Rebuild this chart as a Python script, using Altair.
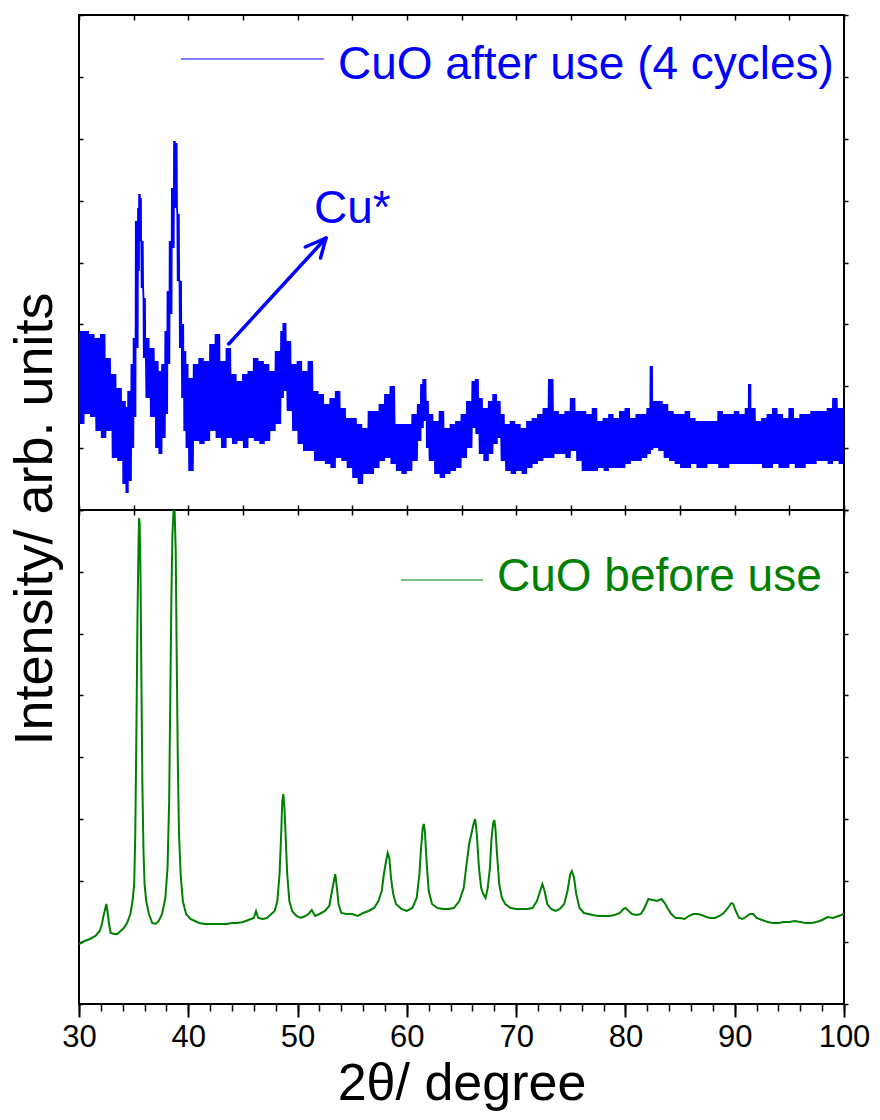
import altair as alt
import pandas as pd

BLUE = "#0000ff"
GREEN = "#008000"
FONT = "Liberation Sans, Arial, sans-serif"

# ---- CuO after use (4 cycles): 2θ grid with upper / lower envelope of the noisy trace
after_deg = [30.0, 30.5, 31.0, 31.5, 32.0, 32.5, 33.0, 33.5, 34.0, 34.3, 34.5, 34.8,
             35.0, 35.2, 35.4, 35.5, 35.6, 35.7, 35.9, 36.1, 36.5, 37.0, 37.3, 37.6,
             37.9, 38.1, 38.3, 38.5, 38.7, 38.8, 39.0, 39.2, 39.4, 39.6, 39.8, 40.0,
             40.5, 41.0, 41.5, 42.0, 42.5, 43.0, 43.5, 44.0, 44.5, 45.0, 45.5, 46.0,
             46.5, 47.0, 47.5, 48.0, 48.5, 48.7, 49.0, 49.5, 50.0, 50.5, 51.0, 51.5,
             52.0, 52.5, 53.0, 53.5, 54.0, 54.5, 55.0, 55.5, 56.0, 56.5, 57.0, 57.5,
             58.0, 58.5, 59.0, 59.5, 60.0, 60.5, 61.0, 61.3, 61.5, 61.8, 62.0, 62.5,
             63.0, 63.5, 64.0, 64.5, 65.0, 65.5, 66.0, 66.3, 66.6, 67.0, 67.5, 67.9,
             68.3, 68.6, 69.0, 69.5, 70.0, 70.5, 71.0, 71.5, 72.0, 72.5, 73.0, 73.5,
             74.0, 74.5, 75.0, 75.5, 76.0, 76.5, 77.0, 77.5, 78.0, 78.5, 79.0, 79.5,
             80.0, 80.5, 81.0, 81.5, 82.0, 82.3, 82.5, 83.0, 83.5, 84.0, 84.5, 85.0,
             85.5, 86.0, 86.5, 87.0, 87.5, 88.0, 88.5, 89.0, 89.5, 90.0, 90.5, 91.0,
             91.3, 91.5, 92.0, 92.5, 93.0, 93.5, 94.0, 94.5, 95.0, 95.5, 96.0, 96.5,
             97.0, 97.5, 98.0, 98.5, 99.0, 99.5, 100.0]
after_hi = [179, 179, 176, 172, 176, 152, 136, 122, 109, 103, 119, 146,
            172, 289, 302, 316, 312, 269, 212, 172, 162, 149, 139, 146,
            179, 219, 269, 322, 369, 367, 296, 229, 186, 159, 146, 132,
            146, 152, 149, 166, 176, 149, 162, 136, 129, 136, 139, 152,
            149, 146, 139, 159, 179, 187, 169, 146, 149, 139, 149, 119,
            116, 106, 112, 119, 102, 92, 92, 86, 82, 99, 99, 106,
            116, 124, 86, 86, 86, 96, 106, 126, 131, 109, 96, 89,
            99, 82, 86, 89, 96, 109, 129, 131, 112, 102, 109, 116,
            109, 96, 86, 89, 86, 82, 89, 92, 96, 102, 131, 99,
            96, 99, 112, 99, 99, 96, 102, 89, 92, 96, 92, 99,
            102, 92, 96, 96, 102, 144, 109, 109, 106, 99, 96, 96,
            99, 92, 89, 89, 89, 89, 99, 96, 96, 99, 96, 102,
            126, 102, 89, 92, 96, 102, 96, 92, 102, 92, 96, 96,
            99, 99, 99, 102, 112, 102, 96]
after_lo = [86, 96, 93, 79, 72, 79, 52, 49, 26, 17, 29, 62,
            93, 162, 239, 286, 269, 222, 152, 112, 93, 62, 56, 72,
            96, 146, 196, 262, 329, 302, 229, 162, 112, 79, 62, 39,
            69, 66, 69, 79, 72, 62, 72, 66, 69, 62, 72, 69,
            66, 69, 79, 86, 112, 119, 99, 79, 66, 59, 59, 49,
            49, 46, 42, 52, 49, 42, 32, 26, 36, 36, 42, 49,
            52, 46, 39, 36, 39, 49, 69, 82, 89, 62, 49, 36,
            32, 36, 39, 42, 52, 62, 82, 76, 56, 49, 56, 66,
            72, 49, 39, 36, 39, 36, 42, 46, 49, 52, 52, 56,
            56, 52, 59, 49, 39, 39, 39, 42, 39, 42, 42, 42,
            46, 49, 49, 52, 56, 60, 62, 59, 52, 49, 46, 42,
            42, 46, 42, 42, 46, 46, 42, 42, 46, 46, 46, 46,
            46, 46, 46, 42, 42, 46, 42, 42, 46, 42, 42, 46,
            46, 49, 49, 46, 49, 46, 56]

# ---- CuO before use
before_deg = [30.0, 30.5, 31.0, 31.5, 31.9, 32.1, 32.2, 32.35, 32.5, 32.6, 32.75, 32.9,
              33.2, 33.5, 33.8, 34.1, 34.4, 34.7, 34.9, 35.05, 35.15, 35.25, 35.35, 35.45,
              35.5, 35.55, 35.62, 35.7, 35.8, 35.9, 36.0, 36.15, 36.4, 36.7, 37.0, 37.3,
              37.6, 37.9, 38.1, 38.25, 38.35, 38.45, 38.55, 38.65, 38.75, 38.85, 38.95, 39.05,
              39.15, 39.3, 39.5, 39.8, 40.2, 40.6, 41.0, 41.5, 42.0, 42.5, 43.0, 43.5,
              44.0, 44.5, 45.0, 45.5, 46.0, 46.2, 46.4, 46.8, 47.2, 47.6, 47.9, 48.15,
              48.35, 48.5, 48.6, 48.7, 48.8, 48.9, 49.05, 49.25, 49.5, 49.9, 50.3, 50.7,
              51.0, 51.3, 51.6, 52.0, 52.5, 52.9, 53.2, 53.45, 53.6, 53.75, 54.0, 54.5,
              55.0, 55.5, 56.0, 56.5, 57.0, 57.4, 57.7, 57.9, 58.1, 58.25, 58.4, 58.55,
              58.75, 59.0, 59.5, 60.0, 60.5, 60.9, 61.15, 61.3, 61.45, 61.55, 61.65, 61.8,
              62.0, 62.3, 62.8, 63.3, 63.8, 64.3, 64.8, 65.2, 65.5, 65.7, 65.9, 66.1,
              66.25, 66.4, 66.6, 66.8, 67.0, 67.2, 67.4, 67.6, 67.75, 67.9, 68.0, 68.1,
              68.25, 68.45, 68.7, 69.0, 69.5, 70.0, 70.5, 71.0, 71.5, 71.9, 72.2, 72.4,
              72.6, 72.85, 73.2, 73.6, 74.0, 74.4, 74.7, 74.95, 75.1, 75.3, 75.5, 75.8,
              76.2, 76.6, 77.0, 77.5, 78.0, 78.5, 79.0, 79.5, 79.8, 80.0, 80.3, 80.6,
              81.0, 81.4, 81.7, 81.9, 82.1, 82.5, 82.9, 83.3, 83.6, 83.9, 84.2, 84.6,
              85.0, 85.4, 85.8, 86.2, 86.6, 87.0, 87.4, 87.8, 88.2, 88.6, 89.0, 89.3,
              89.5, 89.7, 89.85, 90.1, 90.4, 90.7, 91.0, 91.4, 91.7, 92.0, 92.5, 93.0,
              93.5, 94.0, 94.5, 95.0, 95.5, 96.0, 96.5, 97.0, 97.5, 98.0, 98.5, 99.0,
              99.5, 100.0]
before_int = [60, 63, 65, 68, 73, 80, 86, 93, 100, 93, 80, 71,
              70, 70, 73, 76, 81, 90, 103, 120, 170, 270, 386, 463,
              486, 480, 436, 336, 220, 153, 120, 103, 90, 81, 80, 83,
              90, 106, 136, 203, 303, 403, 470, 493, 493, 453, 336, 236,
              170, 130, 103, 90, 85, 83, 81, 80, 80, 80, 80, 80,
              81, 81, 82, 84, 86, 93, 86, 85, 86, 90, 93, 103,
              130, 170, 203, 210, 196, 170, 130, 103, 93, 88, 86, 88,
              90, 94, 88, 90, 93, 98, 116, 130, 116, 100, 91, 90,
              90, 88, 91, 93, 96, 103, 113, 130, 143, 151, 146, 126,
              110, 100, 95, 93, 96, 106, 130, 156, 176, 180, 173, 143,
              113, 100, 96, 95, 95, 96, 103, 116, 143, 160, 170, 180,
              185, 170, 136, 116, 110, 106, 116, 136, 166, 181, 184, 176,
              150, 120, 106, 100, 96, 95, 95, 95, 96, 103, 113, 120,
              113, 100, 95, 93, 95, 100, 113, 130, 133, 126, 110, 96,
              91, 90, 89, 88, 88, 88, 89, 91, 95, 96, 93, 90,
              89, 90, 95, 100, 105, 104, 103, 105, 101, 95, 90, 86,
              86, 85, 88, 90, 90, 89, 87, 86, 86, 88, 91, 95,
              98, 101, 100, 93, 86, 85, 87, 90, 90, 86, 84, 82,
              81, 81, 82, 82, 83, 82, 81, 81, 82, 84, 87, 86,
              88, 90]

# Cu* arrow: shaft, then the two barbs of the head (2θ, intensity)
arrow_x = [43.7, 52.6, 52.6]
arrow_y = [166, 272, 272]
arrow_x2 = [52.6, 50.7, 52.1]
arrow_y2 = [272, 263, 252]

x_major = list(range(30, 101, 10))
x_minor = list(range(30, 101, 2))
x_edge = list(range(30, 101, 5))

W, TOP_H, BOT_H = 765, 495, 494
TOP_MAX, BOT_MAX = 495, 494
SWINGS = 3  # up/down strokes drawn inside each envelope step

# noisy trace drawn as a dense zig-zag between its upper and lower envelope
rows = []
for i, d in enumerate(after_deg):
    nxt = after_deg[i + 1] if i + 1 < len(after_deg) else d
    step = (nxt - d) / (2 * SWINGS)
    for k in range(SWINGS):
        rows.append({"deg": d + 2 * k * step, "val": after_hi[i]})
        rows.append({"deg": d + (2 * k + 1) * step, "val": after_lo[i]})
after_df = pd.DataFrame(rows)
after_df["idx"] = range(len(after_df))

before_df = pd.DataFrame({"deg": before_deg, "val": before_int})
before_df["idx"] = range(len(before_df))

arrow_df = pd.DataFrame({"x": arrow_x, "y": arrow_y, "x2": arrow_x2, "y2": arrow_y2})
one = pd.DataFrame({"k": [0]})

x_scale = alt.Scale(domain=[30, 100], nice=False, zero=False)
top_y = alt.Scale(domain=[0, TOP_MAX], nice=False, zero=False)
bot_y = alt.Scale(domain=[0, BOT_MAX], nice=False, zero=False)


def tick_axis(orient, values, size, offset=0):
    return alt.Axis(orient=orient, offset=offset, values=values, labels=False,
                    ticks=True, tickSize=size, tickWidth=1.5, tickColor="black",
                    domain=False, grid=False, title=None)


top_ticks = [i * TOP_MAX / 8 for i in range(9)]
bot_ticks = [i * BOT_MAX / 8 for i in range(9)]

# ---------------- upper panel ----------------
after_line = alt.Chart(after_df).mark_line(color=BLUE, strokeWidth=1.8, clip=True).encode(
    x=alt.X("deg:Q", scale=x_scale, axis=tick_axis("bottom", x_edge, 5, offset=-TOP_H)),
    y=alt.Y("val:Q", scale=top_y, axis=tick_axis("right", top_ticks, 4, offset=-W)),
    order="idx:Q",
)
after_axes = alt.Chart(after_df).mark_line(opacity=0).encode(
    x=alt.X("deg:Q", scale=x_scale, axis=tick_axis("top", x_edge, 5, offset=-TOP_H)),
    y=alt.Y("val:Q", scale=top_y, axis=tick_axis("right", top_ticks, 4)),
    order="idx:Q",
)
arrow = alt.Chart(arrow_df).mark_rule(color=BLUE, strokeWidth=3.5, strokeCap="round").encode(
    x=alt.X("x:Q", scale=x_scale, axis=None),
    y=alt.Y("y:Q", scale=top_y, axis=None),
    x2="x2:Q",
    y2="y2:Q",
)
cu_label = alt.Chart(one).mark_text(
    text="Cu*", color=BLUE, font=FONT, fontSize=46, align="left", baseline="alphabetic"
).encode(x=alt.value(235), y=alt.value(208))
after_key = alt.Chart(one).mark_rule(color=BLUE, strokeWidth=1.2).encode(
    x=alt.value(102), x2=alt.value(245), y=alt.value(44)
)
after_name = alt.Chart(one).mark_text(
    text="CuO after use (4 cycles)", color=BLUE, font=FONT, fontSize=46,
    align="left", baseline="alphabetic"
).encode(x=alt.value(259), y=alt.value(64))
y_title = alt.Chart(one).mark_text(
    text="Intensity/ arb. units", color="black", font=FONT, fontSize=54,
    angle=270, align="center", baseline="middle"
).encode(x=alt.value(-43), y=alt.value(504))

top = alt.layer(after_line, after_axes, arrow, cu_label, after_key, after_name, y_title).resolve_axis(
    x="independent", y="independent"
).properties(width=W, height=TOP_H)

# ---------------- lower panel ----------------
before_line = alt.Chart(before_df).mark_line(color=GREEN, strokeWidth=2.0, clip=True).encode(
    x=alt.X("deg:Q", scale=x_scale, axis=alt.Axis(
        orient="bottom", values=x_major, format="d", tickSize=13, tickWidth=2,
        tickColor="black", domain=False, grid=False, labelFont=FONT, labelFontSize=31,
        labelColor="black", labelPadding=5, labelFlush=False, title="2θ/ degree",
        titleFont=FONT, titleFontSize=52, titleFontWeight="normal", titleColor="black",
        titlePadding=6)),
    y=alt.Y("val:Q", scale=bot_y, axis=tick_axis("right", bot_ticks, 4, offset=-W)),
    order="idx:Q",
)
minor_axis = alt.Chart(before_df).mark_line(opacity=0).encode(
    x=alt.X("deg:Q", scale=x_scale, axis=tick_axis("bottom", x_minor, 7)),
    y=alt.Y("val:Q", scale=bot_y, axis=tick_axis("right", bot_ticks, 4)),
    order="idx:Q",
)
edge_axis = alt.Chart(before_df).mark_line(opacity=0).encode(
    x=alt.X("deg:Q", scale=x_scale, axis=tick_axis("bottom", x_edge, 5, offset=-BOT_H)),
    y=alt.Y("val:Q", scale=bot_y, axis=None),
    order="idx:Q",
)
before_key = alt.Chart(one).mark_rule(color=GREEN, strokeWidth=1.2).encode(
    x=alt.value(322), x2=alt.value(404), y=alt.value(70)
)
before_name = alt.Chart(one).mark_text(
    text="CuO before use", color=GREEN, font=FONT, fontSize=46,
    align="left", baseline="alphabetic"
).encode(x=alt.value(418), y=alt.value(81))

bottom = alt.layer(before_line, minor_axis, edge_axis, before_key, before_name).resolve_axis(
    x="independent", y="independent"
).properties(width=W, height=BOT_H)

chart = alt.vconcat(top, bottom, spacing=0, bounds="flush").properties(
    padding={"left": 7, "top": 13, "right": 5, "bottom": 5},
    background="white",
).configure_view(stroke="black", strokeWidth=2)

chart.save("out.html", embed_options={"renderer": "svg", "actions": False})
